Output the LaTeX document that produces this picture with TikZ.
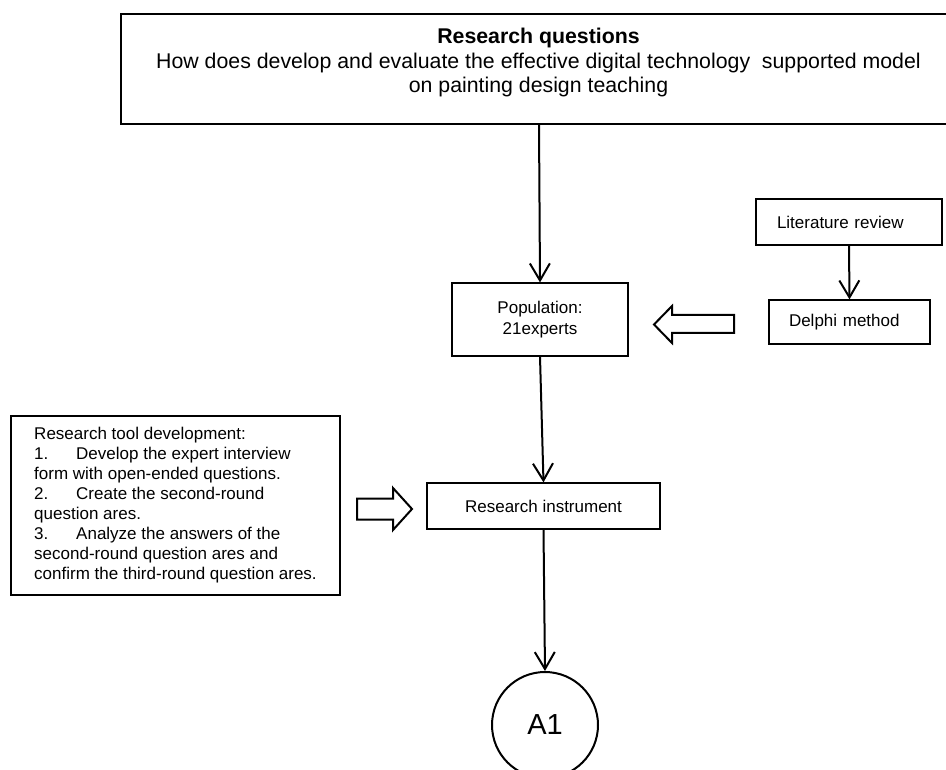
\documentclass[tikz,border=0pt]{standalone}
\usepackage{fontspec}
\setmainfont{Liberation Sans}
\usetikzlibrary{arrows.meta}
\begin{document}
\begin{tikzpicture}[x=1pt,y=-1pt,
  box/.style={draw, line width=1.2pt, rectangle, inner sep=0pt, font=\fontsize{17}{20.5}\selectfont},
  flow/.style={line width=2pt, -{Straight Barb[length=17pt,width=20pt,line width=2pt]}},
  hollow/.style={draw, line width=2pt, fill=white, line join=miter}]
\useasboundingbox (0,0) rectangle (946,770);
\clip (0,0) rectangle (946,770);
% research questions
\draw[line width=1.2pt] (121,14) rectangle (956,124);
\node[font=\fontsize{21.3}{24.5}\selectfont, align=center, inner sep=0pt] (rq) at (538.5,62.5)
  {\textbf{Research questions}\\How does develop and evaluate the effective digital technology\ \ supported model\\on painting design teaching};
\coordinate (rqS) at (539,124);
% boxes
\node[box, minimum width=176pt, minimum height=73pt, align=center] (pop) at (540,319.5) {Population:\\21experts};
\node[box, minimum width=186pt, minimum height=46pt, text width=144pt, inner xsep=21pt, align=left] (lit) at (849,222) {Literature review};
\node[box, minimum width=161pt, minimum height=44pt, text width=121pt, inner xsep=20pt, align=left] (del) at (849.5,322) {Delphi method};
\node[box, minimum width=233pt, minimum height=46pt, align=center] (inst) at (543.5,506) {Research instrument};
\node[box, minimum width=329pt, minimum height=179pt, align=left, font=\fontsize{17}{20}\selectfont] (tool) at (175.5,505.5)
  {Research tool development:\\
   \makebox[42pt][l]{1.}Develop the expert interview\\
   form with open-ended questions.\\
   \makebox[42pt][l]{2.}Create the second-round\\
   question ares.\\
   \makebox[42pt][l]{3.}Analyze the answers of the\\
   second-round question ares and\\
   confirm the third-round question ares.};
\node[draw, circle, line width=2pt, minimum size=106pt, inner sep=0pt, font=\fontsize{29}{29}\selectfont] (a1) at (545,725) {A1};
% connectors
\draw[flow] (rqS) -- (pop.north);
\draw[flow] (lit.south) -- (del.north);
\draw[flow] (pop.south) -- (inst.north);
\draw[flow] (inst.south) -- (a1.north);
% hollow arrows
\draw[hollow] (734,315) -- (672,315) -- (672,306) -- (654,324.5) -- (672,343) -- (672,333) -- (734,333) -- cycle;
\draw[hollow] (357,498.5) -- (393,498.5) -- (393,488) -- (412,509) -- (393,530) -- (393,519.5) -- (357,519.5) -- cycle;
\end{tikzpicture}
\end{document}
